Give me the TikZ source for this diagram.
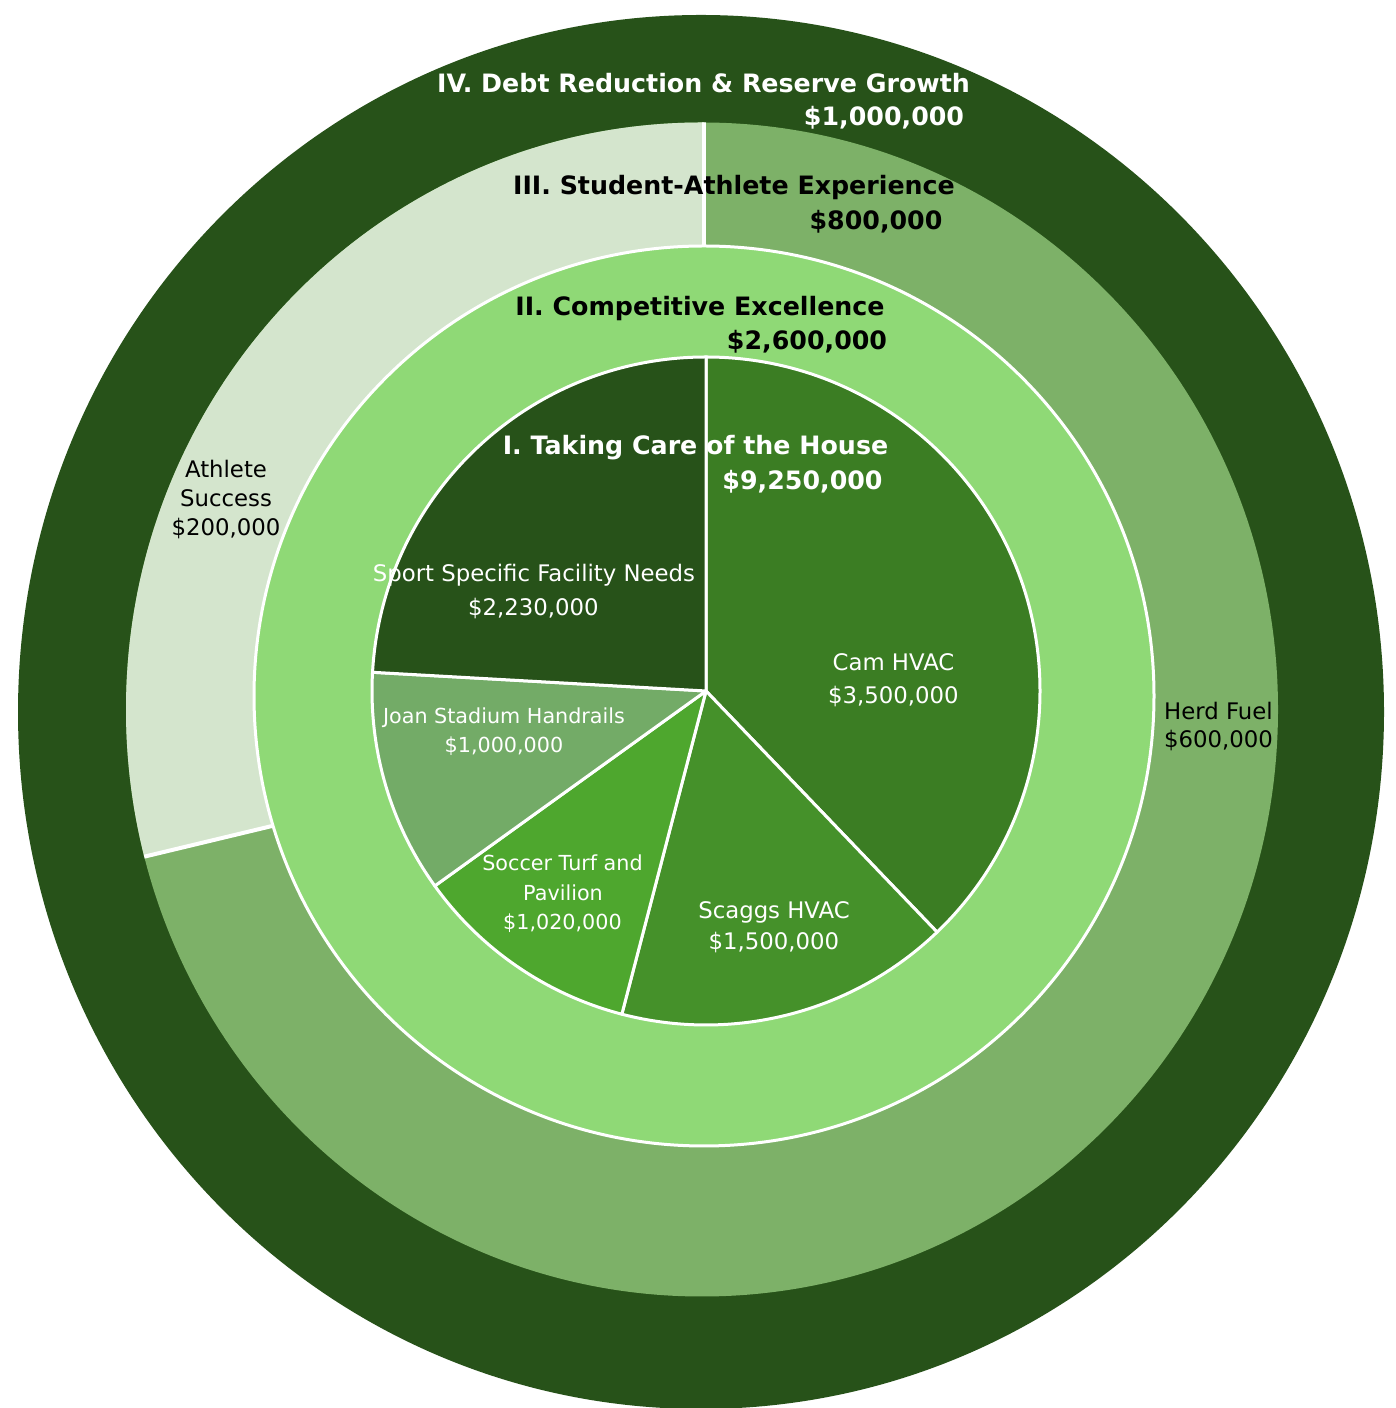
\documentclass[tikz,border=0pt]{standalone}
\usepackage{fontspec}
\setmainfont{DejaVu Sans}
\definecolor{outerdark}{HTML}{275219}
\definecolor{athlete}{HTML}{D4E5CD}
\definecolor{herd}{HTML}{7DB168}
\definecolor{ringtwo}{HTML}{8FD976}
\definecolor{cam}{HTML}{3B7D23}
\definecolor{scaggs}{HTML}{45912A}
\definecolor{soccer}{HTML}{4EA72E}
\definecolor{joan}{HTML}{73AB67}
\definecolor{sport}{HTML}{275219}
\begin{document}
\begin{tikzpicture}[x=1pt,y=1pt,
  slice/.style={draw=white,line width=3pt,line join=round},
  boldw/.style={anchor=base,text=white,inner sep=0pt,font=\fontsize{25.3}{30}\selectfont\bfseries},
  boldk/.style={anchor=base,text=black,inner sep=0pt,font=\fontsize{25.3}{30}\selectfont\bfseries},
  regw/.style={anchor=base,text=white,inner sep=0pt,font=\fontsize{22.8}{27}\selectfont},
  regk/.style={anchor=base,text=black,inner sep=0pt,font=\fontsize{22.8}{27}\selectfont},
  smallw/.style={anchor=base,text=white,inner sep=0pt,font=\fontsize{20.7}{25}\selectfont}]
\clip (0,0) rectangle (1396,1408);
\fill[white] (0,0) rectangle (1396,1408);
% outer ring IV
\fill[outerdark] (701,696) ellipse [x radius=683pt, y radius=697pt];
% ring III
\fill[herd] (702,698.5) ellipse [x radius=576pt, y radius=587pt];
\begin{scope}
  \clip (702,698.5) ellipse [x radius=576pt, y radius=587pt];
  \fill[athlete] (704,1308) -- (704,637) -- (500,636.7) -- (100,540.7) -- (100,1308) -- cycle;
  \draw[white,line width=3.5pt] (704,1308) -- (704,1000);
  \draw[white,line width=4pt] (100,540.7) -- (500,636.7);
\end{scope}
% ring II
\filldraw[fill=ringtwo,draw=white,line width=3pt] (704,712) circle[radius=450pt];
% inner pie
\coordinate (C) at (706,717);
\filldraw[fill=cam,slice] (C) -- ++(90:334pt) arc[start angle=90,end angle=-46.216,radius=334pt] -- cycle;
\filldraw[fill=scaggs,slice] (C) -- ++(-46.216:334pt) arc[start angle=-46.216,end angle=-104.595,radius=334pt] -- cycle;
\filldraw[fill=soccer,slice] (C) -- ++(-104.595:334pt) arc[start angle=-104.595,end angle=-144.292,radius=334pt] -- cycle;
\filldraw[fill=joan,slice] (C) -- ++(-144.292:334pt) arc[start angle=-144.292,end angle=-183.211,radius=334pt] -- cycle;
\filldraw[fill=sport,slice] (C) -- ++(-183.211:334pt) arc[start angle=-183.211,end angle=-270,radius=334pt] -- cycle;
% labels
\node[boldw] (t4a) at (703.5,1315) {IV. Debt Reduction \& Reserve Growth};
\node[boldw] (t4b) at (884,1282) {\$1,000,000};
\node[boldk] (t3a) at (734,1213) {III. Student-Athlete Experience};
\node[boldk] (t3b) at (876,1178) {\$800,000};
\node[boldk] (t2a) at (700,1092) {II. Competitive Excellence};
\node[boldk] (t2b) at (807,1058) {\$2,600,000};
\node[boldw] (t1a) at (695.5,953) {I. Taking Care of the House};
\node[boldw] (t1b) at (802.5,918) {\$9,250,000};
\node[regw] (sp1) at (534,826) {Sport Specific Facility Needs};
\node[regw] (sp2) at (533.5,792) {\$2,230,000};
\node[regw] (cam1) at (893.5,737.5) {Cam HVAC};
\node[regw] (cam2) at (893.5,704.5) {\$3,500,000};
\node[regw] (sc1) at (774,489) {Scaggs HVAC};
\node[regw] (sc2) at (774,458) {\$1,500,000};
\node[smallw] (jo1) at (504,684) {Joan Stadium Handrails};
\node[smallw] (jo2) at (504,655) {\$1,000,000};
\node[smallw] (so1) at (562.5,537) {Soccer Turf and};
\node[smallw] (so2) at (563,507) {Pavilion};
\node[smallw] (so3) at (562.5,478) {\$1,020,000};
\node[regk] (at1) at (226,930) {Athlete};
\node[regk] (at2) at (226,901) {Success};
\node[regk] (at3) at (226,872) {\$200,000};
\node[regk,anchor=base west] (hf1) at (1164,688) {Herd Fuel};
\node[regk,anchor=base west] (hf2) at (1164,660) {\$600,000};
\end{tikzpicture}
\end{document}
